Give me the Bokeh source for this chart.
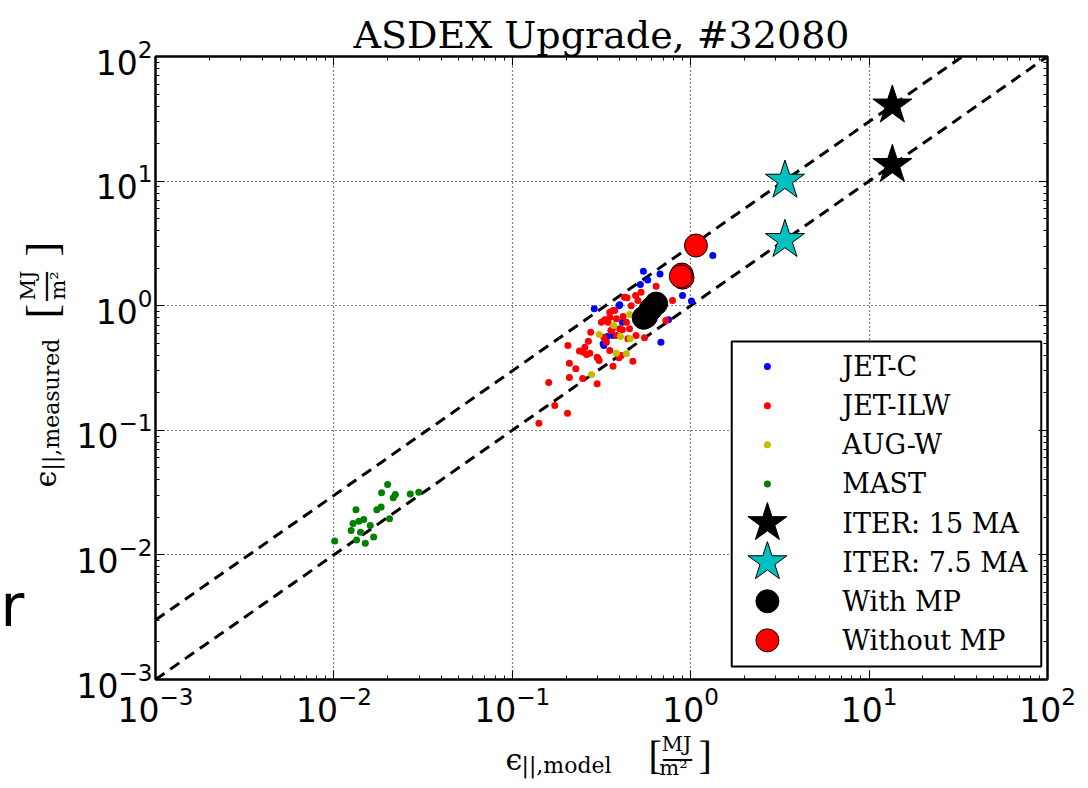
import math
from bokeh.plotting import figure
from bokeh.layouts import column, row
from bokeh.models import Range1d, LinearScale, LogAxis, FixedTicker, LogTickFormatter
from bokeh.core.properties import value
from bokeh.embed import file_html
from bokeh.resources import INLINE

# ---------------- data ----------------
jetc_x = [0.288, 0.326, 0.341, 0.367, 0.396, 0.414, 1.33, 0.543, 0.673, 0.574, 0.522, 0.900, 1.01, 0.400, 0.681, 0.751, 0.323]
jetc_y = [0.944, 0.480, 0.566, 0.577, 1.00, 0.738, 2.53, 1.89, 1.80, 1.61, 1.48, 1.21, 1.09, 1.02, 0.509, 0.771, 0.494]

jetilw_x = [0.141, 0.204, 0.173, 0.160, 0.209, 0.227, 0.209, 0.205, 0.248, 0.299, 0.299, 0.307, 0.238, 0.250,
            0.261, 0.272, 0.255, 0.267, 0.275, 0.367, 0.396, 0.316, 0.344, 0.337, 0.326, 0.352, 0.375, 0.383,
            0.357, 0.383, 0.400, 0.425, 0.640, 0.791, 0.527, 0.491, 0.440, 0.506, 0.464, 0.367, 0.352, 0.418,
            0.330, 0.436, 0.454, 0.364, 0.414, 0.445, 0.494, 0.551, 0.726, 0.352, 0.474, 0.303, 0.408, 0.527, 0.506]
jetilw_y = [0.114, 0.137, 0.158, 0.242, 0.265, 0.312, 0.346, 0.480, 0.261, 0.236, 0.386, 0.363, 0.432, 0.424,
            0.405, 0.416, 0.465, 0.519, 0.612, 0.327, 0.382, 0.738, 0.738, 0.509, 0.558, 0.887, 0.914, 0.785,
            0.632, 0.577, 0.653, 1.17, 1.43, 1.10, 1.28, 1.21, 1.16, 1.10, 1.00, 0.914, 0.809, 0.819,
            0.771, 0.738, 0.653, 0.653, 0.641, 0.542, 0.577, 0.552, 0.760, 0.437, 0.359, 0.375, 0.398, 0.693, 0.785]

augw_x = [0.307, 0.370, 0.404, 0.383, 0.278, 0.436, 0.454, 0.458]
augw_y = [0.588, 0.693, 0.566, 0.416, 0.281, 0.411, 0.849, 0.542]

mast_x = [0.0101, 0.0133, 0.0128, 0.0138, 0.0147, 0.0125, 0.0141, 0.0160, 0.0134, 0.0150, 0.0167,
          0.0174, 0.0185, 0.0184, 0.0205, 0.0200, 0.0215, 0.0221, 0.0268, 0.0299]
mast_y = [0.0129, 0.0230, 0.0179, 0.0186, 0.0192, 0.0157, 0.0152, 0.0172, 0.0132, 0.0124, 0.0139,
          0.0230, 0.0315, 0.0242, 0.0195, 0.0367, 0.0287, 0.0306, 0.0308, 0.0318]

iter15_x = [13.5, 13.5]
iter15_y = [13.5, 40.5]
iter75_x = [3.375, 3.375]
iter75_y = [3.375, 10.1]

withmp_x = [0.640, 0.599, 0.562, 0.545]
withmp_y = [1.04, 0.944, 0.819, 0.800]
withoutmp_x = [1.07, 0.891, 0.900, 0.880]
withoutmp_y = [3.04, 1.78, 1.68, 1.72]

diag_x = [1e-3, 1e2]
diag_factors = [1.0, 3.0]

major_ticks = [1e-3, 1e-2, 1e-1, 1e0, 1e1, 1e2]
series_labels = ["JET-C", "JET-ILW", "AUG-W", "MAST", "ITER: 15 MA", "ITER: 7.5 MA", "With MP", "Without MP"]
title_text = "ASDEX Upgrade, #32080"

# ---------------- styles ----------------
SERIF = "DejaVu Serif"
styles = {
    "JET-C": dict(marker="circle", size=7, fill_color="#0000ff", line_color="#0000ff", line_width=0),
    "JET-ILW": dict(marker="circle", size=7, fill_color="#ff0000", line_color="#ff0000", line_width=0),
    "AUG-W": dict(marker="circle", size=7, fill_color="#bfbf00", line_color="#bfbf00", line_width=0),
    "MAST": dict(marker="circle", size=7, fill_color="#008000", line_color="#008000", line_width=0),
    "ITER: 15 MA": dict(marker="star", size=41, fill_color="#000000", line_color="#000000", line_width=1),
    "ITER: 7.5 MA": dict(marker="star", size=41, fill_color="#00bfbf", line_color="#000000", line_width=1),
    "With MP": dict(marker="circle", size=23, fill_color="#000000", line_color="#000000", line_width=1),
    "Without MP": dict(marker="circle", size=23, fill_color="#ff0000", line_color="#000000", line_width=1),
}
series_data = {
    "JET-C": (jetc_x, jetc_y),
    "JET-ILW": (jetilw_x, jetilw_y),
    "AUG-W": (augw_x, augw_y),
    "MAST": (mast_x, mast_y),
    "ITER: 15 MA": (iter15_x, iter15_y),
    "ITER: 7.5 MA": (iter75_x, iter75_y),
    "With MP": (withmp_x, withmp_y),
    "Without MP": (withoutmp_x, withoutmp_y),
}

minor_ticks = [m * t for t in major_ticks[:-1] for m in range(2, 10)]

YSTRIP_W = 72
TOTAL_W, MAIN_H, XSTRIP_H = 1080, 730, 50
FRAME_TOP, FRAME_BOTTOM = 56, 679   # page pixels of the main frame (min_border_top / MAIN_H - min_border_bottom)

# ---------------- main plot ----------------
p = figure(width=TOTAL_W - YSTRIP_W, height=MAIN_H, x_axis_type="log", y_axis_type="log",
           x_range=Range1d(1e-3, 1e2), y_range=Range1d(1e-3, 1e2),
           output_backend="svg", toolbar_location=None,
           min_border_left=83, min_border_right=33, min_border_top=FRAME_TOP,
           min_border_bottom=MAIN_H - FRAME_BOTTOM,
           background_fill_color="white", border_fill_color="white")

p.title.text = title_text
p.title.text_font = SERIF
p.title.text_font_size = "38px"
p.title.text_font_style = "normal"
p.title.text_color = "black"
p.title.align = "center"
p.title.standoff = 0
p.title.offset = 0

p.outline_line_color = "black"
p.outline_line_width = 2

def style_axis(ax, labels=True, standoff=3):
    ax.ticker = FixedTicker(ticks=major_ticks, minor_ticks=minor_ticks)
    ax.formatter = LogTickFormatter()
    ax.major_tick_in = 9
    ax.major_tick_out = 0
    ax.minor_tick_in = 4
    ax.minor_tick_out = 0
    ax.major_tick_line_color = "black"
    ax.minor_tick_line_color = "black"
    ax.axis_line_color = "black"
    ax.axis_line_width = 2
    if labels:
        ax.major_label_text_font = "DejaVu Sans"
        ax.major_label_text_font_size = "33px"
        ax.major_label_text_color = "black"
        ax.major_label_standoff = standoff
    else:
        ax.major_label_text_font_size = "2px"
        ax.major_label_text_color = None
        ax.major_label_standoff = 0

style_axis(p.xaxis[0], standoff=6)
style_axis(p.yaxis[0], standoff=3)
top_ax = LogAxis()
right_ax = LogAxis()
style_axis(top_ax, labels=False)
style_axis(right_ax, labels=False)
p.add_layout(top_ax, "above")
p.add_layout(right_ax, "right")

p.grid.grid_line_color = "black"
p.grid.grid_line_dash = "1 3"
p.grid.grid_line_width = 1.2
p.xgrid.ticker = FixedTicker(ticks=major_ticks)
p.ygrid.ticker = FixedTicker(ticks=major_ticks)

# dashed reference lines y = k x
for k in diag_factors:
    p.line(diag_x, [k * v for v in diag_x], line_color="black", line_width=3, line_dash="11 7")

for name in series_labels:
    xs, ys = series_data[name]
    p.scatter(xs, ys, **styles[name])

# ---------------- legend (frame-fraction coordinates) ----------------
p.extra_x_ranges = {"fx": Range1d(0, 1)}
p.extra_y_ranges = {"fy": Range1d(0, 1)}
p.extra_x_scales = {"fx": LinearScale()}
p.extra_y_scales = {"fy": LinearScale()}

leg_left, leg_right, leg_bottom, leg_top = 0.646, 0.993, 0.0209, 0.5425
row0, row_step = 0.5024, 0.0628
mark_x, text_x = 0.686, 0.770
p.quad(left=[leg_left], right=[leg_right], bottom=[leg_bottom], top=[leg_top],
       fill_color="white", line_color="black", line_width=2,
       x_range_name="fx", y_range_name="fy")
for i, name in enumerate(series_labels):
    p.scatter([mark_x], [row0 - i * row_step], x_range_name="fx", y_range_name="fy", **styles[name])
p.text(x=[text_x] * len(series_labels), y=[row0 - i * row_step for i in range(len(series_labels))],
       text=series_labels, text_font=value(SERIF), text_font_size="27px",
       text_baseline="middle", text_align="left", text_color="black",
       x_range_name="fx", y_range_name="fy")

# ---------------- axis-label strips (page-pixel coordinates) ----------------
def strip(w, h, y_bottom, y_top):
    f = figure(width=w, height=h, x_range=Range1d(0, w), y_range=Range1d(y_bottom, y_top),
               output_backend="svg", toolbar_location=None, min_border=0,
               x_axis_location=None, y_axis_location=None,
               background_fill_color="white", border_fill_color="white")
    f.outline_line_color = None
    f.grid.visible = False
    return f

def txt(f, x, y, s, size, angle=0.0, align="left", font=SERIF):
    f.text(x=[x], y=[y], text=[s], text_font=value(font), text_font_size=size, angle=angle,
           text_align=align, text_baseline="middle", text_color="black")

# y label strip at the left (its frame is aligned with the main frame by the row layout)
yl = strip(YSTRIP_W, MAIN_H, FRAME_BOTTOM, FRAME_TOP)
R = math.pi / 2
txt(yl, 45, 487, "ϵ", "30px", angle=R)
txt(yl, 51, 470, "||,measured", "22px", angle=R)
txt(yl, 42, 318, "[", "44px", angle=R, font="Liberation Serif")
txt(yl, 27, 285, "MJ", "21px", angle=R, align="center")
txt(yl, 43, 286, "—", "32px", angle=R, align="center")
txt(yl, 57, 285, "m²", "21px", angle=R, align="center")
txt(yl, 42, 256, "]", "44px", angle=R, font="Liberation Serif")
txt(yl, 0, 605, "r", "58px", font="DejaVu Sans")

# x label strip at the bottom
xl = strip(TOTAL_W, XSTRIP_H, MAIN_H + XSTRIP_H, MAIN_H)
txt(xl, 505, 759, "ϵ", "30px")
txt(xl, 521, 765, "||,model", "22px")
txt(xl, 648, 755, "[", "40px", font="Liberation Serif")
txt(xl, 676, 743, "MJ", "21px", align="center")
txt(xl, 677, 756, "—", "32px", align="center")
txt(xl, 673, 767, "m²", "21px", align="center")
txt(xl, 698, 755, "]", "40px", font="Liberation Serif")

layout = column(row(yl, p, spacing=0), xl, spacing=0)
open("out.html", "w").write(file_html(layout, INLINE))
